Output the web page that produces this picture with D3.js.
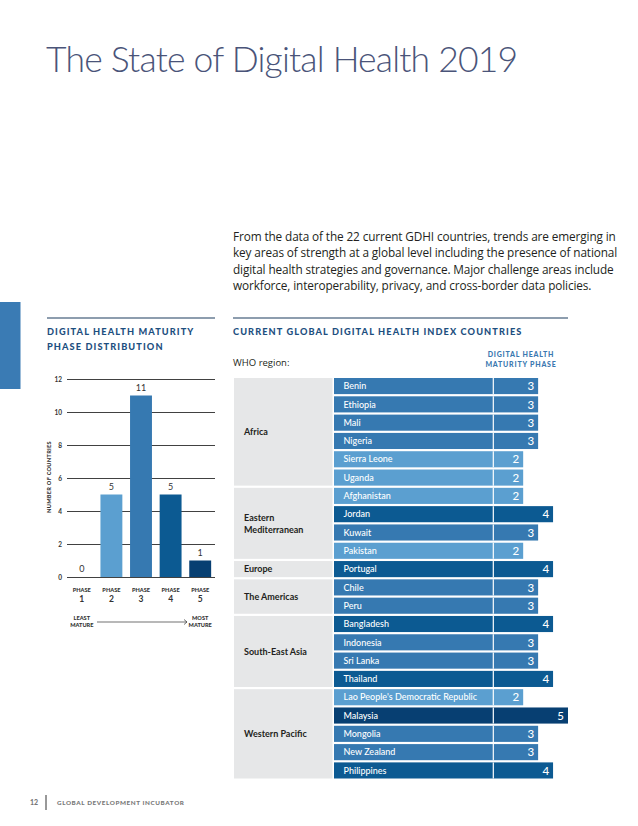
<!DOCTYPE html>
<html><head><meta charset="utf-8">
<script src="https://cdn.jsdelivr.net/npm/d3@7"></script>
<style>
body{margin:0;background:#fff;}
svg{display:block;font-family:Lato, "Open Sans", sans-serif;}
</style></head>
<body>
<svg id="c" width="638" height="826"></svg>
<script>
// ---- data ----
const phases = ["1","2","3","4","5"];
const phaseCounts = [0,5,11,5,1];
const yTicks = [0,2,4,6,8,10,12];
const countries = ["Benin","Ethiopia","Mali","Nigeria","Sierra Leone","Uganda","Afghanistan","Jordan","Kuwait","Pakistan","Portugal","Chile","Peru","Bangladesh","Indonesia","Sri Lanka","Thailand","Lao People's Democratic Republic","Malaysia","Mongolia","New Zealand","Philippines"];
const countryRegions = ["Africa","Africa","Africa","Africa","Africa","Africa","Eastern Mediterranean","Eastern Mediterranean","Eastern Mediterranean","Eastern Mediterranean","Europe","The Americas","The Americas","South-East Asia","South-East Asia","South-East Asia","South-East Asia","Western Pacific","Western Pacific","Western Pacific","Western Pacific","Western Pacific"];
const countryPhases = [3,3,3,3,2,2,2,4,3,2,4,3,3,4,3,3,4,2,5,3,3,4];
const regions = ["Africa","Eastern Mediterranean","Europe","The Americas","South-East Asia","Western Pacific"];
const regionLabels = [["Africa"],["Eastern","Mediterranean"],["Europe"],["The Americas"],["South-East Asia"],["Western Pacific"]];
const paragraph = [
 "From the data of the 22 current GDHI countries, trends are emerging in",
 "key areas of strength at a global level including the presence of national",
 "digital health strategies and governance. Major challenge areas include",
 "workforce, interoperability, privacy, and cross-border data policies."
];

const phaseColor = d3.scaleOrdinal().domain([1,2,3,4,5]).range(["#9cc6e6","#5b9fd0","#3679b1","#0c5a92","#073f72"]);

const svg = d3.select("#c");

// title
svg.append("text").attr("x",46).attr("y",72).attr("font-size",35.5).attr("font-weight",300)
  .attr("letter-spacing",-0.8).attr("fill","#4a5479").text("The State of Digital Health 2019");

// paragraph
svg.append("g").selectAll("text").data(paragraph).join("text")
  .attr("x",233).attr("y",(d,i)=>241+i*16.4).attr("font-size",11.8).attr("fill","#231f20")
  .attr("font-family","'Open Sans', Lato, sans-serif").attr("letter-spacing",-0.12)
  .text(d=>d);

// accent bar
svg.append("rect").attr("x",0).attr("y",302).attr("width",20.5).attr("height",87).attr("fill","#3a7bb4");

// section rules
svg.append("line").attr("x1",47).attr("x2",215).attr("y1",318).attr("y2",318).attr("stroke","#1d3d5e").attr("stroke-width",1.2);
svg.append("line").attr("x1",233).attr("x2",568).attr("y1",318).attr("y2",318).attr("stroke","#1d3d5e").attr("stroke-width",1.2);

const headStyle = s => s.attr("font-weight",900).attr("fill","#1d4f80").attr("letter-spacing",1.1).attr("font-size",9.2);
svg.append("text").attr("x",47).attr("y",335).call(headStyle).text("DIGITAL HEALTH MATURITY");
svg.append("text").attr("x",47).attr("y",350).call(headStyle).text("PHASE DISTRIBUTION");
svg.append("text").attr("x",233).attr("y",335).call(headStyle).text("CURRENT GLOBAL DIGITAL HEALTH INDEX COUNTRIES");

// ---- left bar chart ----
const x = d3.scaleBand().domain(phases).range([67,215]).paddingInner(0.26).paddingOuter(0.13);
const y = d3.scaleLinear().domain([0,12]).range([577,379]);

const yAxis = svg.append("g").attr("transform","translate(67,0)")
  .call(d3.axisLeft(y).tickValues(yTicks).tickSize(-148).tickPadding(5));
yAxis.select(".domain").remove();
yAxis.selectAll(".tick line").attr("stroke","#2b2b2b").attr("stroke-width",0.9);
yAxis.selectAll(".tick text").attr("font-size",6.5).attr("font-weight",700).attr("fill","#333").attr("font-family","Lato, sans-serif");

svg.append("text").attr("transform","translate(51,477) rotate(-90)").attr("text-anchor","middle")
  .attr("font-size",5.6).attr("font-weight",900).attr("fill","#333").attr("letter-spacing",0.3).text("NUMBER OF COUNTRIES");

svg.append("g").selectAll("rect").data(phases).join("rect")
  .attr("x",d=>x(d)).attr("width",x.bandwidth())
  .attr("y",(d,i)=>y(phaseCounts[i])).attr("height",(d,i)=>y(0)-y(phaseCounts[i]))
  .attr("fill",d=>phaseColor(+d));

svg.append("g").selectAll("text").data(phases).join("text")
  .attr("x",d=>x(d)+x.bandwidth()/2).attr("y",(d,i)=>y(phaseCounts[i])-5)
  .attr("text-anchor","middle").attr("font-size",9).attr("fill","#333")
  .text((d,i)=>phaseCounts[i]);

const xAxis = svg.append("g").attr("transform","translate(0,577)")
  .call(d3.axisBottom(x).tickSize(0).tickFormat(""));
xAxis.select(".domain").remove();
const pl = svg.append("g").selectAll("g").data(phases).join("g")
  .attr("transform",d=>`translate(${x(d)+x.bandwidth()/2},0)`);
pl.append("text").attr("y",592).attr("text-anchor","middle").attr("font-size",5.6).attr("font-weight",900)
  .attr("fill","#333").text("PHASE");
pl.append("text").attr("y",602).attr("text-anchor","middle").attr("font-size",8.5).attr("font-weight",700)
  .attr("fill","#333").text(d=>d);

const mat = [["LEAST","MATURE",x("1")+x.bandwidth()/2],["MOST","MATURE",x("5")+x.bandwidth()/2]];
mat.forEach(m=>{
  svg.append("text").attr("x",m[2]).attr("y",620).attr("text-anchor","middle").attr("font-size",5.6).attr("font-weight",900).attr("fill","#333").text(m[0]);
  svg.append("text").attr("x",m[2]).attr("y",627).attr("text-anchor","middle").attr("font-size",5.6).attr("font-weight",900).attr("fill","#333").text(m[1]);
});
svg.append("line").attr("x1",97).attr("x2",187).attr("y1",622).attr("y2",622).attr("stroke","#333").attr("stroke-width",0.7);
svg.append("path").attr("d","M184,619.5 L187,622 L184,624.5").attr("fill","none").attr("stroke","#333").attr("stroke-width",0.7);

// ---- right table ----
svg.append("text").attr("x",233).attr("y",366).attr("font-size",9.5).attr("fill","#231f20")
  .attr("font-family","'Open Sans', Lato, sans-serif").text("WHO region:");
const subStyle = s => s.attr("text-anchor","middle").attr("font-weight",900).attr("fill","#3a78b0").attr("letter-spacing",0.8).attr("font-size",7);
svg.append("text").attr("x",521).attr("y",357).call(subStyle).text("DIGITAL HEALTH");
svg.append("text").attr("x",521).attr("y",367).call(subStyle).text("MATURITY PHASE");

const yr = d3.scaleBand().domain(countries).range([378,778.5]).paddingInner(0.12);
const xv = d3.scaleLinear().domain([0,5]).range([493.3,568]);
const nameX0 = 334;

// region backgrounds
regions.forEach((r,ri)=>{
  const members = countries.filter((c,i)=>countryRegions[i]===r);
  const top = yr(members[0]), bot = yr(members[members.length-1])+yr.bandwidth();
  svg.append("rect").attr("x",234).attr("y",top).attr("width",98.5).attr("height",bot-top).attr("fill","#e6e7e8");
  const lines = regionLabels[ri];
  const cy = (top+bot)/2;
  lines.forEach((t,li)=>{
    svg.append("text").attr("x",244).attr("y",cy+3.2+(li-(lines.length-1)/2)*12)
      .attr("font-size",9).attr("font-weight",700).attr("fill","#231f20").text(t);
  });
});

const rows = svg.append("g").selectAll("g").data(countries).join("g")
  .attr("transform",d=>`translate(0,${yr(d)})`);
rows.append("rect").attr("x",nameX0).attr("width",(d,i)=>xv(countryPhases[i])-nameX0)
  .attr("height",yr.bandwidth()).attr("fill",(d,i)=>phaseColor(countryPhases[i]));
rows.append("line").attr("x1",xv(0)).attr("x2",xv(0)).attr("y1",0).attr("y2",yr.bandwidth())
  .attr("stroke","#fff").attr("stroke-width",1.2);
rows.append("text").attr("x",343.5).attr("y",yr.bandwidth()/2+3.2).attr("font-size",9).attr("font-weight",500)
  .attr("fill","#fff").text(d=>d);
rows.append("text").attr("x",(d,i)=>xv(countryPhases[i])-4).attr("y",yr.bandwidth()/2+4.2)
  .attr("text-anchor","end").attr("font-size",11.5).attr("font-weight",500).attr("fill","#fff")
  .text((d,i)=>countryPhases[i]);

// footer
svg.append("text").attr("x",30).attr("y",805).attr("font-size",7).attr("font-weight",900).attr("fill","#777").text("12");
svg.append("line").attr("x1",46).attr("x2",46).attr("y1",795).attr("y2",810).attr("stroke","#333").attr("stroke-width",1);
svg.append("text").attr("x",57).attr("y",805).attr("font-size",6.3).attr("font-weight",900).attr("fill","#777").attr("letter-spacing",0.6).text("GLOBAL DEVELOPMENT INCUBATOR");
</script>
</body></html>
